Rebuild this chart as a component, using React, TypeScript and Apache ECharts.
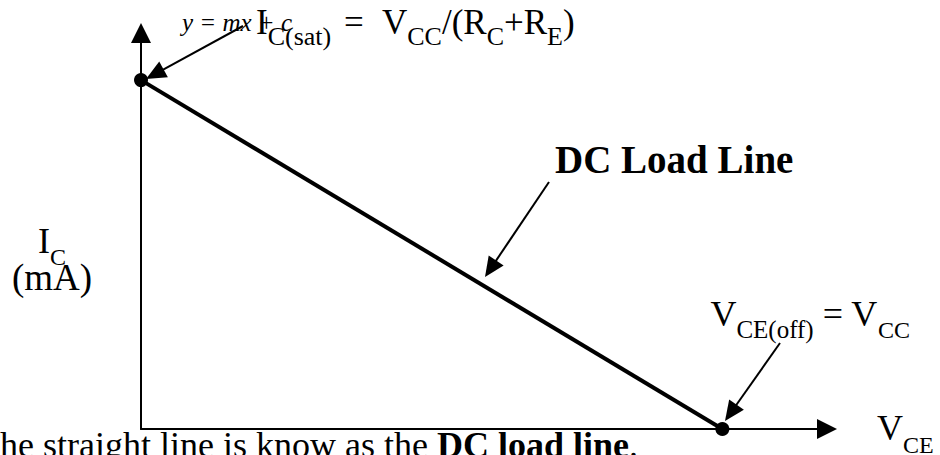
import React, { useEffect, useRef } from "react";
import * as echarts from "echarts";

// Load line end points: (V_CE, I_C)
const VCE_POINTS = [0, 10];
const IC_POINTS = [10, 0];
const X_MAX = 11.8;
const Y_MAX = 11.35;

const FONT = '"Liberation Serif", "Times New Roman", serif';

type Run = { t: string; size: number; dy?: number; weight?: string; style?: string; at?: number };

let ctx: CanvasRenderingContext2D | null = null;
function fontOf(r: Run) {
  return `${r.style || "normal"} ${r.weight || "normal"} ${r.size}px ${FONT}`;
}
function widthOf(r: Run) {
  if (!ctx) ctx = document.createElement("canvas").getContext("2d");
  ctx!.font = fontOf(r);
  return ctx!.measureText(r.t).width;
}

function runs(x: number, baseline: number, list: Run[], align: "left" | "right" = "left") {
  const total = list.reduce((s, r) => s + widthOf(r), 0);
  let cx = align === "left" ? x : x - total;
  const out: any[] = [];
  list.forEach((r) => {
    if (r.at !== undefined) cx = r.at;
    const w = widthOf(r);
    out.push({
      type: "text",
      x: cx,
      y: baseline + (r.dy || 0) - 0.3375 * r.size,
      silent: true,
      style: {
        text: r.t,
        font: fontOf(r),
        fill: "#000",
        align: "left",
        verticalAlign: "middle",
      },
    });
    cx += w;
  });
  return out;
}

function arrow(x1: number, y1: number, x2: number, y2: number, len = 20, hw = 9) {
  const dx = x2 - x1;
  const dy = y2 - y1;
  const d = Math.sqrt(dx * dx + dy * dy);
  const ux = dx / d;
  const uy = dy / d;
  const bx = x2 - ux * len;
  const by = y2 - uy * len;
  return [
    {
      type: "line",
      silent: true,
      shape: { x1, y1, x2: bx + ux * 2, y2: by + uy * 2 },
      style: { stroke: "#000", lineWidth: 2 },
    },
    {
      type: "polygon",
      silent: true,
      shape: {
        points: [
          [x2, y2],
          [bx - uy * hw, by + ux * hw],
          [bx + uy * hw, by - ux * hw],
        ],
      },
      style: { fill: "#000" },
    },
  ];
}

export default function App() {
  const ref = useRef<HTMLDivElement>(null);
  useEffect(() => {
    if (!ref.current) return;
    const chart = echarts.init(ref.current, null, { renderer: "svg" });
    const axisCommon = {
      type: "value" as const,
      min: 0,
      axisTick: { show: false },
      axisLabel: { show: false },
      splitLine: { show: false },
      axisLine: {
        show: true,
        onZero: false,
        symbol: ["none", "triangle"],
        symbolSize: [20, 20],
        lineStyle: { color: "#000", width: 2 },
      },
    };
    const graphic: any[] = [
      ...arrow(243, 26, 146, 79),
      ...arrow(549, 182, 485, 277),
      ...arrow(780, 343, 725, 421),
      ...runs(182, 31, [{ t: "y = mx + c", size: 25, style: "italic" }]),
      ...runs(256, 34, [
        { t: "I", size: 35 },
        { t: "C(sat)", size: 26, dy: 11 },
        { t: "=", size: 35, at: 344 },
        { t: "V", size: 35, at: 382 },
        { t: "CC", size: 26, dy: 11 },
        { t: "/(R", size: 35 },
        { t: "C", size: 26, dy: 11 },
        { t: "+R", size: 35 },
        { t: "E", size: 26, dy: 11 },
        { t: ")", size: 35 },
      ]),
      ...runs(555, 173, [{ t: "DC Load Line", size: 39, weight: "bold" }]),
      ...runs(38, 253, [
        { t: "I", size: 36 },
        { t: "C", size: 24, dy: 12 },
      ]),
      ...runs(12, 290, [{ t: "(mA)", size: 37 }]),
      ...runs(910, 326, [
        { t: "V", size: 36 },
        { t: "CE(off)", size: 25, dy: 12 },
        { t: " = V", size: 36 },
        { t: "CC", size: 24, dy: 12 },
      ], "right"),
      ...runs(877, 440, [
        { t: "V", size: 36 },
        { t: "CE", size: 24, dy: 13 },
      ]),
      ...runs(-22, 457, [
        { t: "The straight line is know as the ", size: 36 },
        { t: "DC load line", size: 36, weight: "bold" },
        { t: ".", size: 36 },
      ]),
    ];
    chart.setOption({
      animation: false,
      grid: { left: 141, right: 113, top: 33, bottom: 26 },
      xAxis: { ...axisCommon, max: X_MAX },
      yAxis: { ...axisCommon, max: Y_MAX },
      series: [
        {
          type: "line",
          data: VCE_POINTS.map((v, i) => [v, IC_POINTS[i]]),
          clip: false,
          symbol: "circle",
          symbolSize: 14,
          showSymbol: true,
          itemStyle: { color: "#000" },
          lineStyle: { color: "#000", width: 4 },
          z: 5,
        },
      ],
      graphic,
    });
    return () => chart.dispose();
  }, []);
  return (
    <div
      ref={ref}
      style={{ position: "fixed", left: 0, top: 0, width: 940, height: 455, background: "#fff" }}
    />
  );
}
